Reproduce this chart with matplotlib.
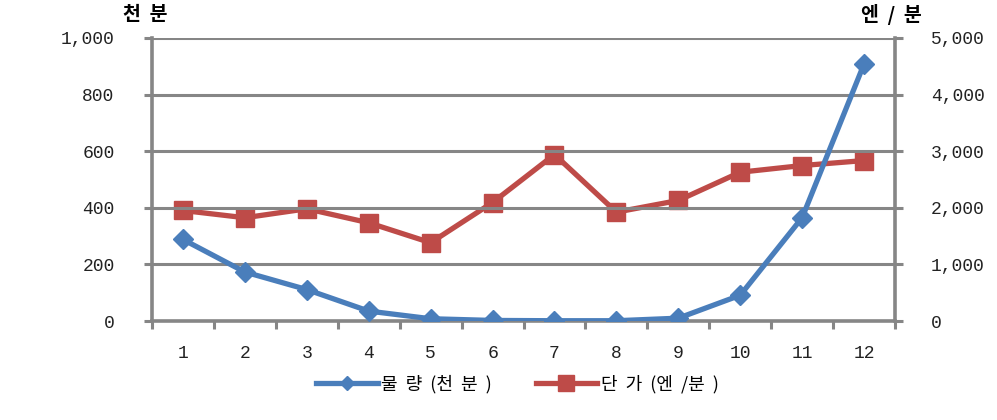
import matplotlib.pyplot as plt
from matplotlib.lines import Line2D
from matplotlib.ticker import FuncFormatter

plt.rcParams['font.family'] = ['Noto Sans CJK KR', 'DejaVu Sans']

# monthly data
months = [1, 2, 3, 4, 5, 6, 7, 8, 9, 10, 11, 12]
month_labels = [str(m) for m in months]
volume = [288, 173, 111, 35, 8, 2, 1, 1, 10, 91, 365, 908]          # 천 분
unit_price = [1952, 1824, 1982, 1735, 1383, 2093, 2940, 1923, 2129, 2628, 2746, 2834]  # 엔/분

blue = '#4A7EBB'
red = '#BE4B48'
grey = '#868686'
tick_font = dict(family='Liberation Mono', size=13)

fig = plt.figure(figsize=(9.97, 4.2), dpi=100)
ax = fig.add_axes([0.1525, 0.2357, 0.7452, 0.674])
ax2 = ax.twinx()

ax.set_ylim(0, 1000)
ax.set_yticks([0, 200, 400, 600, 800, 1000])
ax.yaxis.grid(True, color=grey, linewidth=2.2)
ax.set_axisbelow(True)

ax2.set_ylim(0, 5000)
ax2.set_yticks([0, 1000, 2000, 3000, 4000, 5000])

line_v, = ax.plot(months, volume, color=blue, linewidth=3.8, marker='D',
                  markersize=10, zorder=3)
line_p, = ax2.plot(months, unit_price, color=red, linewidth=3.8, marker='s',
                   markersize=13, zorder=3)
# blue line drawn above red
ax.set_zorder(ax2.get_zorder() + 1)
ax.patch.set_visible(False)

ax.set_xlim(0.5, 12.5)
ax.set_xticks(months)
ax.set_xticklabels(month_labels)
ax.set_xticks([m + 0.5 for m in range(0, 13)], minor=True)
ax.tick_params(axis='x', which='major', length=0, pad=17)
ax.tick_params(axis='x', which='minor', length=6, width=2.2, color=grey)
ax.tick_params(axis='y', length=6, width=2.2, color=grey, pad=21)
ax2.tick_params(axis='y', length=6, width=2.2, color=grey, pad=20)

fmt = FuncFormatter(lambda v, p: f'{int(v):,}')
ax.yaxis.set_major_formatter(fmt)
ax2.yaxis.set_major_formatter(fmt)

for lbl in ax.get_xticklabels() + ax.get_yticklabels() + ax2.get_yticklabels():
    lbl.set_fontfamily(tick_font['family'])
    lbl.set_fontsize(tick_font['size'])
    lbl.set_color('#222222')

ax.spines['top'].set_visible(False)
ax2.spines['top'].set_visible(False)
for s in ('left', 'bottom'):
    ax.spines[s].set_color(grey)
    ax.spines[s].set_linewidth(2.6)
ax2.spines['right'].set_color(grey)
ax2.spines['right'].set_linewidth(2.6)
ax.spines['right'].set_visible(False)
ax2.spines['left'].set_visible(False)
ax2.spines['bottom'].set_visible(False)

fig.text(0.146, 0.965, '천  분', ha='center', va='center', fontsize=14, fontweight='bold')
fig.text(0.894, 0.965, '엔  /  분', ha='center', va='center', fontsize=14, fontweight='bold')

# legend with smaller markers like the original
h_v = Line2D([], [], color=blue, linewidth=3.8, marker='D', markersize=7)
h_p = Line2D([], [], color=red, linewidth=3.8, marker='s', markersize=11)
fig.legend(handles=[h_v, h_p], labels=['물  량  (천  분  )', '단  가  (엔  /분  )'],
           loc='center', bbox_to_anchor=(0.519, 0.085),
           ncol=2, frameon=False, fontsize=13, handlelength=3.4, columnspacing=2.4,
           handletextpad=0.2)

fig.savefig('out.png', dpi=100)
